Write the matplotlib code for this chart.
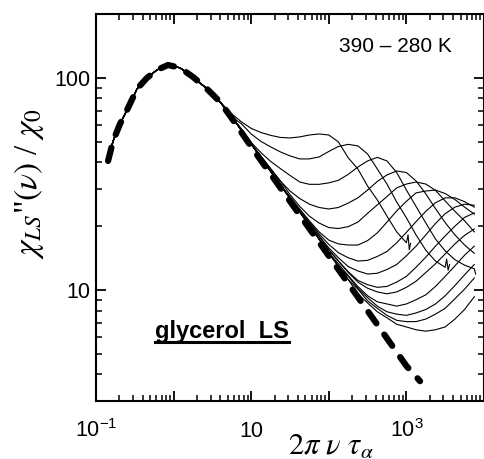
import numpy as np
import matplotlib.pyplot as plt
from matplotlib.lines import Line2D
from matplotlib.ticker import NullFormatter

plt.rcParams['font.family'] = 'Liberation Sans'
plt.rcParams['mathtext.fontset'] = 'custom'
plt.rcParams['mathtext.rm'] = 'Liberation Sans'
plt.rcParams['mathtext.it'] = 'Liberation Sans:italic'

nan = np.nan

# alpha peak: low-frequency part shared by all spectra
x_low = [0.143, 0.166, 0.204, 0.259, 0.338, 0.454, 0.611, 0.847, 1.21, 1.78, 2.69, 3.96]
y_low = [40.6, 50.4, 60.7, 72.2, 88.8, 100, 109, 115, 111.5, 101, 88.8, 77.1]

# high-frequency part, one list per temperature (390 K on top ... 280 K at the bottom)
x_high = [5.62, 7.5, 10, 13.3, 17.8, 23.7, 31.6, 42.2, 56.2, 75, 100, 133, 178,
          237, 316, 422, 562, 750, 1000, 1330, 1780, 2370, 3160, 4220, 5620, 7500]

c1 = [67.6, 62.0, 57.8, 55.3, 53.6, 52.4, 52.1, 52.7, 53.8, 54.4, 53.8, 49.9, 42.0,
      37.2, 30.9, 26.6, 22.3, 18.8, 16.7, nan, nan, nan, nan, nan, nan, nan]
c2 = [65.5, 60.7, 54.4, 50.2, 47.3, 44.8, 42.9, 41.5, 41.5, 42.4, 45.0, 47.5, 48.6,
      47.8, 43.8, 37.2, 31.6, 26.0, 21.9, 18.2, 15.4, 13.7, 12.8, nan, nan, nan]
c3 = [65.1, 57.5, 49.6, 44.5, 40.4, 37.4, 34.7, 32.3, 31.5, 31.5, 32.0, 32.9, 35.1,
      38.0, 40.6, 42.2, 40.6, 35.8, 29.6, 24.8, 20.7, 17.4, 15.3, 13.9, 13.1, 12.6]
c4 = [66.2, 56.3, 48.6, 42.6, 37.2, 32.7, 29.3, 27.0, 25.4, 24.5, 24.1, 24.5, 25.7,
      27.2, 29.6, 32.5, 34.9, 36.4, 35.8, 32.7, 28.4, 24.2, 20.8, 18.2, 16.3, 14.9]
c5 = [65.5, 56.5, 48.9, 42.9, 37.4, 32.7, 28.2, 24.8, 22.3, 20.7, 19.7, 19.5, 19.9,
      20.9, 23.0, 25.2, 27.6, 30.3, 31.6, 32.3, 31.6, 29.5, 26.3, 23.5, 21.2, 18.8]
c6 = [65.3, 56.9, 48.7, 42.0, 36.2, 31.3, 27.6, 24.1, 21.2, 18.8, 17.2, 16.5, 16.3,
      16.3, 17.1, 18.6, 20.9, 23.6, 26.2, 28.7, 29.3, 29.6, 28.5, 26.7, 24.6, 22.8]
c7 = [65.8, 56.5, 49.1, 42.4, 36.1, 31.5, 27.2, 23.8, 20.9, 18.4, 16.4, 15.0, 14.2,
      13.7, 13.8, 14.4, 15.2, 16.7, 18.7, 21.0, 23.5, 25.8, 27.2, 27.2, 26.1, 24.6]
c8 = [65.5, 56.9, 48.7, 42.0, 36.3, 31.2, 27.0, 23.3, 20.7, 18.0, 15.8, 14.2, 12.9,
      12.3, 11.9, 12.0, 12.5, 13.2, 14.5, 16.1, 18.2, 20.6, 22.9, 24.6, 25.4, 25.1]
c9 = [65.6, 56.8, 49.0, 42.3, 36.4, 31.4, 27.1, 23.4, 20.2, 17.9, 15.5, 13.7, 12.2,
      11.1, 10.6, 10.3, 10.4, 10.9, 11.6, 12.8, 14.3, 16.1, 18.0, 20.0, 22.0, 23.1]
c10 = [65.3, 56.5, 48.8, 42.1, 36.3, 31.3, 27.0, 23.3, 20.1, 17.4, 15.5, 13.7, 12.1,
       10.9, 10.2, 9.8, 9.6, 9.8, 10.3, 11.0, 12.1, 13.3, 14.8, 16.5, 18.1, 19.4]
c11 = [65.8, 56.8, 48.9, 42.2, 36.4, 31.4, 27.1, 23.4, 20.2, 17.4, 15.0, 13.3, 11.7,
       10.4, 9.4, 8.8, 8.6, 8.4, 8.6, 9.0, 9.5, 10.4, 11.6, 13.0, 14.6, 16.1]
c12 = [65.5, 56.6, 48.8, 42.1, 36.3, 31.3, 27.0, 23.3, 20.1, 17.3, 14.9, 12.9, 11.6,
       10.2, 9.2, 8.4, 7.9, 7.7, 7.6, 7.8, 8.1, 8.6, 9.4, 10.5, 11.8, 13.2]
c13 = [65.7, 56.7, 49.0, 42.2, 36.3, 31.4, 27.1, 23.4, 20.2, 17.4, 15.0, 12.9, 11.2,
       10.1, 8.9, 8.2, 7.6, 7.2, 7.1, 7.1, 7.3, 7.7, 8.2, 9.1, 10.1, 11.4]
c14 = [65.9, 56.9, 49.0, 42.3, 36.5, 31.5, 27.1, 23.4, 20.2, 17.4, 15.0, 13.0, 11.2,
       9.6, 8.7, 7.9, 7.4, 6.9, 6.7, 6.5, 6.4, 6.5, 6.7, 7.3, 8.1, 9.3]
curves = [c1, c2, c3, c4, c5, c6, c7, c8, c9, c10, c11, c12, c13, c14]

# noisy ends of the three hottest spectra
tail_x = [[1050, 1090, 1130], [3300, 3450, 3600], [7800]]
tail_y = [[18.2, 15.5, 16.6], [14.0, 12.4, 13.2], [11.9]]

# fit (thick dashed)
fit_x = x_low + [5.62, 10, 100, 1000, 1500]
fit_y = y_low + [64.5, 47.4, 14.5, 4.39, 3.72]

xticks = [0.1, 1, 10, 100, 1000, 10000]
xticklabels = [r'$\mathregular{10^{-1}}$', '', '10', '', r'$\mathregular{10^{3}}$', '']
yticks = [10, 100]
yticklabels = ['10', '100']

fig = plt.figure(figsize=(4.84, 4.59), dpi=100)
ax = fig.add_axes([96 / 484, 58 / 459, 388 / 484, 387 / 459])

for i, cy in enumerate(curves):
    xs = np.array(x_low + x_high)
    ys = np.array(y_low + cy)
    keep = ~np.isnan(ys)
    xs, ys = xs[keep], ys[keep]
    if i < len(tail_x):
        xs = np.concatenate([xs, tail_x[i]])
        ys = np.concatenate([ys, tail_y[i]])
    ax.plot(xs, ys, color='black', lw=0.8)

ax.plot(fit_x, fit_y, color='black', lw=4.5, dashes=(2.2, 2.2),
        dash_capstyle='round', zorder=5)

ax.set_xscale('log')
ax.set_yscale('log')
ax.set_xlim(0.1, 1e4)
ax.set_ylim(3, 200)
ax.set_xticks(xticks)
ax.set_xticklabels(xticklabels)
ax.set_yticks(yticks)
ax.set_yticklabels(yticklabels)
ax.xaxis.set_minor_formatter(NullFormatter())
ax.yaxis.set_minor_formatter(NullFormatter())
ax.tick_params(which='both', direction='in', top=True, right=True, labelsize=15.5)
ax.tick_params(which='major', length=7, width=1.3)
ax.tick_params(which='minor', length=4, width=1.1)
ax.tick_params(axis='y', pad=4)
ax.tick_params(axis='x', pad=26)
for lab in ax.get_xticklabels():
    lab.set_verticalalignment('baseline')
for sp in ax.spines.values():
    sp.set_linewidth(1.5)

ax.set_xlabel(r'$2\pi\ \nu\ \tau_\alpha$', fontsize=22, math_fontfamily='stix')
ax.xaxis.set_label_coords(0.606, -0.08)
ax.set_ylabel(r'$\chi_{LS}$"$(\nu)$ / $\chi_0$', fontsize=24,
              family='Liberation Serif', math_fontfamily='stix')
ax.yaxis.set_label_coords(-0.13, 0.563)

ax.text(0.771, 0.902, '390 \u2013 280 K', transform=ax.transAxes, fontsize=15,
        ha='center', va='baseline')
txt = ax.text(0.152, 0.163, 'glycerol  LS', transform=ax.transAxes, fontsize=17,
              fontweight='bold', ha='left', va='baseline')

# underline the sample label
fig.canvas.draw()
bb = txt.get_window_extent(fig.canvas.get_renderer())
W, H = fig.bbox.width, fig.bbox.height
fig.add_artist(Line2D([bb.x0 / W, bb.x1 / W], [(bb.y0 + 1) / H] * 2,
                      transform=fig.transFigure, color='black', lw=2.2))

fig.savefig('out.png', dpi=100)
